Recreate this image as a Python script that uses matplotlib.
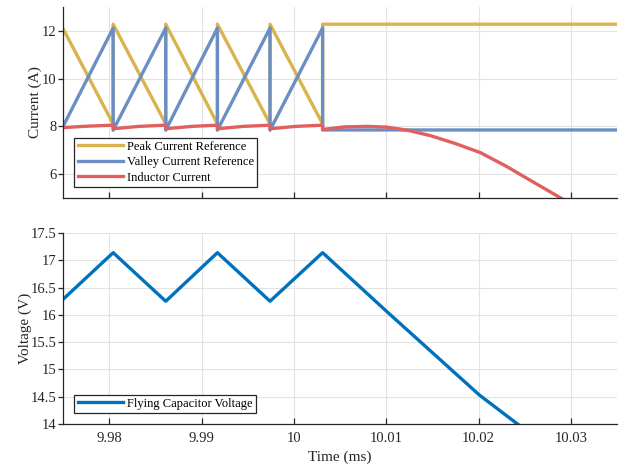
import matplotlib
matplotlib.use("Agg")
import matplotlib.pyplot as plt

plt.rcParams['font.family'] = ['Liberation Serif', 'DejaVu Serif']
plt.rcParams['font.size'] = 10

# ---- data (time in ms) ----
peak_t = [9.975, 9.9804, 9.9804, 9.9861, 9.9861, 9.9917, 9.9917, 9.9974, 9.9974, 10.0031, 10.0031, 10.035]
peak_i = [12.07, 8.10, 12.28, 8.10, 12.28, 8.10, 12.28, 8.10, 12.28, 8.10, 12.28, 12.28]

valley_t = [9.975, 9.9804, 9.9804, 9.9861, 9.9861, 9.9917, 9.9917, 9.9974, 9.9974, 10.0031, 10.0031, 10.035]
valley_i = [8.02, 12.12, 7.84, 12.12, 7.84, 12.12, 7.84, 12.12, 7.84, 12.12, 7.85, 7.85]

ind_t = [9.975, 9.9777, 9.9804, 9.9804, 9.9832, 9.9861, 9.9861, 9.9889, 9.9917, 9.9917,
         9.9945, 9.9974, 9.9974, 10.0002, 10.0031, 10.0031, 10.0055, 10.008, 10.010,
         10.0123, 10.0148, 10.0175, 10.0202, 10.023, 10.0257, 10.029, 10.031]
ind_i = [7.95, 8.01, 8.05, 7.90, 8.00, 8.05, 7.90, 8.00, 8.05, 7.90,
         8.00, 8.05, 7.90, 8.00, 8.05, 7.87, 7.98, 8.00, 7.97,
         7.84, 7.61, 7.28, 6.90, 6.33, 5.72, 4.98, 4.40]

vc_t = [9.975, 9.9804, 9.9861, 9.9917, 9.9974, 10.0031, 10.010, 10.0201, 10.0250]
vc_v = [16.29, 17.14, 16.25, 17.14, 16.25, 17.14, 16.07, 14.53, 13.90]

xticks = [9.98, 9.99, 10.0, 10.01, 10.02, 10.03]
xtick_labels = ['9.98', '9.99', '10', '10.01', '10.02', '10.03']
top_yticks = [6, 8, 10, 12]
bot_yticks = [14, 14.5, 15, 15.5, 16, 16.5, 17, 17.5]
bot_ytick_labels = ['14', '14.5', '15', '15.5', '16', '16.5', '17', '17.5']

c_peak = '#D9B34D'
c_valley = '#6B8FC4'
c_ind = '#E06060'
c_vc = '#0072BD'
spine_c = '#262626'
grid_c = '#E3E3E3'

fig = plt.figure(figsize=(6.27, 4.67), dpi=100)
ax1 = fig.add_axes([0.101, 0.576, 0.883, 0.409])
ax2 = fig.add_axes([0.101, 0.092, 0.883, 0.409])

lw = 2.4
ax1.plot(peak_t, peak_i, color=c_peak, lw=lw, label='Peak Current Reference')
ax1.plot(valley_t, valley_i, color=c_valley, lw=lw, label='Valley Current Reference')
ax1.plot(ind_t, ind_i, color=c_ind, lw=lw, label='Inductor Current')
ax2.plot(vc_t, vc_v, color=c_vc, lw=lw, label='Flying Capacitor Voltage')

for ax in (ax1, ax2):
    ax.set_xlim(9.975, 10.035)
    ax.set_xticks(xticks)
    ax.grid(True, color=grid_c, lw=0.8)
    ax.set_axisbelow(True)
    for s in ('top', 'right'):
        ax.spines[s].set_visible(False)
    for s in ('left', 'bottom'):
        ax.spines[s].set_color(spine_c)
        ax.spines[s].set_linewidth(0.9)
    ax.tick_params(axis='x', direction='in', length=4, width=0.9, colors=spine_c, labelsize=10.5, pad=6)
    ax.tick_params(axis='y', direction='out', length=3.5, width=0.9, colors=spine_c, labelsize=10.5, pad=1.5)

ax1.set_ylim(5, 13)
ax1.set_yticks(top_yticks)
ax1.set_xticklabels([])
ax1.set_ylabel('Current (A)', fontsize=11, color=spine_c)
ax1.yaxis.set_label_coords(-0.038, 0.5)

ax2.set_ylim(14, 17.5)
ax2.set_yticks(bot_yticks)
ax2.set_yticklabels(bot_ytick_labels)
ax2.set_xticklabels(xtick_labels)
ax2.set_ylabel('Voltage (V)', fontsize=11, color=spine_c)
ax2.yaxis.set_label_coords(-0.056, 0.5)
ax2.set_xlabel('Time (ms)', fontsize=11, color=spine_c, labelpad=4)

leg_kw = dict(loc='lower left', borderaxespad=0, fancybox=False, framealpha=1,
              edgecolor=spine_c, handlelength=3.6, handletextpad=0.35,
              labelspacing=0.27, borderpad=0.25, fontsize=9)
l1 = ax1.legend(bbox_to_anchor=(0.02, 0.059), **leg_kw)
l2 = ax2.legend(bbox_to_anchor=(0.02, 0.059), **leg_kw)
for l in (l1, l2):
    l.get_frame().set_linewidth(0.9)

fig.savefig('out.png', dpi=100)
